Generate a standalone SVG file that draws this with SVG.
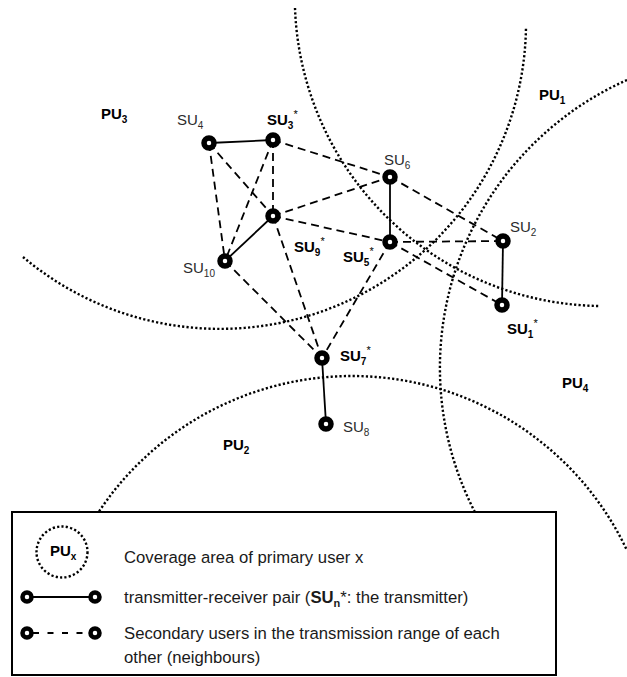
<svg xmlns="http://www.w3.org/2000/svg" width="627" height="677" viewBox="0 0 627 677">
  <style>
    .area { fill: none; stroke: #000; stroke-width: 2.4; stroke-dasharray: 2.2 2.2; }
    .nb { stroke: #000; stroke-width: 1.8; stroke-dasharray: 8 5; fill: none; }
    .pair { stroke: #000; stroke-width: 1.8; fill: none; }
    .node { fill: #fff; stroke: #000; stroke-width: 5.5; }
    .lnode { fill: #fff; stroke: #000; stroke-width: 4.5; }
    text { font-family: "Liberation Sans", Arial, sans-serif; }
    .lbl { font-size: 15px; fill: #2b2b2b; }
    .b { font-weight: bold; fill: #000; }
    .key { font-size: 16.7px; fill: #1a1a1a; }
  </style>

  <rect width="627" height="677" fill="#fff"/>

  <!-- primary user coverage areas -->
  <g id="coverage">
    <path id="pu1-area" class="area" d="M 295 8 A 309 309 0 0 0 600 306"/>
    <path id="pu3-area" class="area" d="M 23 257 A 306 306 0 0 0 526 27"/>
    <path id="pu4-area" class="area" d="M 627 80 A 315 315 0 0 0 476.4 515"/>
    <path id="pu2-area" class="area" d="M 96.7 515 A 304 304 0 0 1 627 550.4"/>
  </g>

  <g id="pu-labels" class="lbl b">
    <text x="539" y="100">PU<tspan dy="4" font-size="10">1</tspan></text>
    <text x="101" y="119">PU<tspan dy="4" font-size="10">3</tspan></text>
    <text x="562" y="388">PU<tspan dy="4" font-size="10">4</tspan></text>
    <text x="223" y="450">PU<tspan dy="4" font-size="10">2</tspan></text>
  </g>

  <!-- links between secondary users -->
  <g id="connectors">
    <line class="nb" x1="209" y1="143" x2="225" y2="261"/>
    <line class="nb" x1="209" y1="143" x2="273" y2="216"/>
    <line class="nb" x1="273" y1="140" x2="273" y2="216"/>
    <line class="nb" x1="273" y1="140" x2="225" y2="261"/>
    <line class="nb" x1="273" y1="140" x2="390" y2="177"/>
    <line class="nb" x1="273" y1="216" x2="390" y2="177"/>
    <line class="nb" x1="273" y1="216" x2="390" y2="242"/>
    <line class="nb" x1="390" y1="177" x2="503" y2="241"/>
    <line class="nb" x1="390" y1="242" x2="503" y2="241"/>
    <line class="nb" x1="390" y1="242" x2="502" y2="305"/>
    <line class="nb" x1="225" y1="261" x2="322" y2="358"/>
    <line class="nb" x1="273" y1="216" x2="322" y2="358"/>
    <line class="nb" x1="390" y1="242" x2="322" y2="358"/>
    <line class="pair" x1="209" y1="143" x2="273" y2="140"/>
    <line class="pair" x1="273" y1="216" x2="225" y2="261"/>
    <line class="pair" x1="390" y1="177" x2="390" y2="242"/>
    <line class="pair" x1="503" y1="241" x2="502" y2="305"/>
    <line class="pair" x1="322" y1="358" x2="326" y2="424"/>
  </g>

  <!-- secondary users -->
  <g id="su1">
    <circle class="node" cx="502" cy="305" r="5"/>
    <text class="lbl b" x="507" y="334">SU<tspan dy="4" font-size="10">1</tspan><tspan dy="-11" font-size="11" font-weight="normal">*</tspan></text>
  </g>
  <g id="su2">
    <circle class="node" cx="503" cy="241" r="5"/>
    <text class="lbl" x="510" y="232">SU<tspan dy="4" font-size="10">2</tspan></text>
  </g>
  <g id="su3">
    <circle class="node" cx="273" cy="140" r="5"/>
    <text class="lbl b" x="267" y="125">SU<tspan dy="4" font-size="10">3</tspan><tspan dy="-11" font-size="11" font-weight="normal">*</tspan></text>
  </g>
  <g id="su4">
    <circle class="node" cx="209" cy="143" r="5"/>
    <text class="lbl" x="177" y="125">SU<tspan dy="4" font-size="10">4</tspan></text>
  </g>
  <g id="su5">
    <circle class="node" cx="390" cy="242" r="5"/>
    <text class="lbl b" x="343" y="262">SU<tspan dy="4" font-size="10">5</tspan><tspan dy="-11" font-size="11" font-weight="normal">*</tspan></text>
  </g>
  <g id="su6">
    <circle class="node" cx="390" cy="177" r="5"/>
    <text class="lbl" x="384" y="165">SU<tspan dy="4" font-size="10">6</tspan></text>
  </g>
  <g id="su7">
    <circle class="node" cx="322" cy="358" r="5"/>
    <text class="lbl b" x="340" y="361">SU<tspan dy="4" font-size="10">7</tspan><tspan dy="-11" font-size="11" font-weight="normal">*</tspan></text>
  </g>
  <g id="su8">
    <circle class="node" cx="326" cy="424" r="5"/>
    <text class="lbl" x="343" y="432">SU<tspan dy="4" font-size="10">8</tspan></text>
  </g>
  <g id="su9">
    <circle class="node" cx="273" cy="216" r="5"/>
    <text class="lbl b" x="294" y="252">SU<tspan dy="4" font-size="10">9</tspan><tspan dy="-11" font-size="11" font-weight="normal">*</tspan></text>
  </g>
  <g id="su10">
    <circle class="node" cx="225" cy="261" r="5"/>
    <text class="lbl" x="183" y="273">SU<tspan dy="4" font-size="10">10</tspan></text>
  </g>

  <!-- legend -->
  <g id="legend">
    <rect x="12" y="512" width="544" height="163" fill="#fff" stroke="#000" stroke-width="2"/>
    <circle class="area" cx="62" cy="552" r="25.5"/>
    <text class="lbl b" x="50" y="556">PU<tspan dy="4" font-size="10">x</tspan></text>
    <text class="key" x="124" y="563">Coverage area of primary user x</text>

    <line class="pair" x1="27" y1="597" x2="95" y2="597"/>
    <circle class="lnode" cx="27" cy="597" r="4.5"/>
    <circle class="lnode" cx="95" cy="597" r="4.5"/>
    <text class="key" x="124" y="603">transmitter-receiver pair (<tspan font-weight="bold">SU</tspan><tspan font-weight="bold" font-size="11" dy="4">n</tspan><tspan dy="-4">*: the transmitter)</tspan></text>

    <line stroke="#000" stroke-width="1.8" stroke-dasharray="6 8.5" x1="33" y1="633" x2="95" y2="633"/>
    <circle class="lnode" cx="27" cy="633" r="4.5"/>
    <circle class="lnode" cx="95" cy="633" r="4.5"/>
    <text class="key" x="124" y="639">Secondary users in the transmission range of each</text>
    <text class="key" x="124" y="663">other (neighbours)</text>
  </g>
</svg>
